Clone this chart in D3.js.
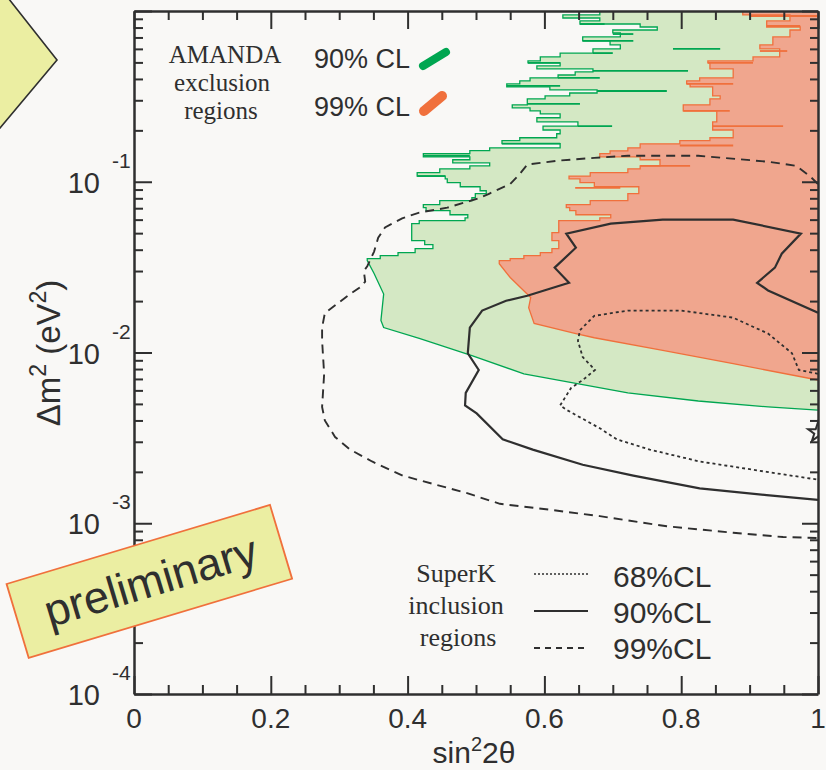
<!DOCTYPE html>
<html>
<head>
<meta charset="utf-8">
<script src="https://cdn.jsdelivr.net/npm/d3@7"></script>
<style>
  html, body { margin: 0; padding: 0; background: #f9f8f6; }
  svg { display: block; }
</style>
</head>
<body>
<svg id="chart" width="826" height="770"></svg>
<script>
// ---- axis ticks ----
const xMajorTicks = [0, 0.2, 0.4, 0.6, 0.8, 1];
const xTickLabels = ["0", "0.2", "0.4", "0.6", "0.8", "1"];
const yDecades = [1e-4, 1e-3, 1e-2, 1e-1];
const yExponents = ["-4", "-3", "-2", "-1"];

// ---- AMANDA exclusion regions, [sin²2θ, Δm² (eV²)] ----
// scanned rows of the ragged upper edge (left limit per Δm² row)
const amanda90Rows = [
  [0.613, 1.0], [0.681, 0.948], [0.627, 0.910], [0.681, 0.875], [0.652, 0.839], [0.740, 0.806],
  [0.765, 0.774], [0.700, 0.744], [0.711, 0.705], [0.656, 0.668], [0.696, 0.633], [0.711, 0.600],
  [0.671, 0.567], [0.623, 0.538], [0.594, 0.510], [0.576, 0.497], [0.623, 0.477], [0.589, 0.458],
  [0.671, 0.440], [0.645, 0.422], [0.620, 0.406], [0.579, 0.390], [0.564, 0.374], [0.545, 0.359],
  [0.608, 0.345], [0.677, 0.331], [0.637, 0.318], [0.601, 0.306], [0.575, 0.294], [0.575, 0.282],
  [0.553, 0.271], [0.579, 0.260], [0.594, 0.250], [0.623, 0.237], [0.589, 0.224], [0.649, 0.212],
  [0.598, 0.201], [0.623, 0.191], [0.618, 0.181], [0.564, 0.174], [0.538, 0.167], [0.623, 0.158],
  [0.520, 0.152], [0.491, 0.146], [0.423, 0.140], [0.491, 0.1345], [0.466, 0.129], [0.520, 0.124],
  [0.491, 0.119], [0.447, 0.113], [0.414, 0.108], [0.455, 0.104], [0.458, 0.0987], [0.477, 0.0935],
  [0.506, 0.0886], [0.515, 0.0851], [0.499, 0.0806], [0.494, 0.0775], [0.447, 0.0734], [0.423, 0.0705],
  [0.427, 0.0677], [0.462, 0.0641], [0.488, 0.0615], [0.484, 0.0592], [0.417, 0.0568], [0.406, 0.0538],
  [0.406, 0.0504], [0.406, 0.0477], [0.406, 0.0452], [0.425, 0.0428], [0.437, 0.0406], [0.411, 0.0385],
  [0.386, 0.0369], [0.360, 0.0355], [0.341, 0.0345]
];
// smooth lower edge
const amanda90Lower = [
  [0.341, 0.0345], [0.351, 0.029], [0.365, 0.022], [0.361, 0.0154], [0.365, 0.0140], [0.417, 0.0121],
  [0.494, 0.0096], [0.570, 0.0075], [0.646, 0.0066], [0.722, 0.0058], [0.825, 0.0052], [0.927, 0.0048],
  [1.0, 0.0046]
];
const amanda99Rows = [
  [0.893, 1.0], [0.890, 0.948], [0.959, 0.910], [0.959, 0.875], [0.925, 0.839], [0.925, 0.806],
  [0.974, 0.774], [0.959, 0.744], [0.959, 0.705], [0.934, 0.668], [0.934, 0.633], [0.915, 0.600],
  [0.944, 0.567], [0.944, 0.538], [0.905, 0.510], [0.839, 0.497], [0.842, 0.477], [0.842, 0.458],
  [0.876, 0.440], [0.876, 0.422], [0.876, 0.406], [0.827, 0.390], [0.808, 0.374], [0.813, 0.359],
  [0.846, 0.345], [0.846, 0.331], [0.846, 0.318], [0.857, 0.306], [0.842, 0.294], [0.842, 0.282],
  [0.803, 0.271], [0.803, 0.260], [0.852, 0.250], [0.852, 0.237], [0.852, 0.224], [0.846, 0.212],
  [0.846, 0.201], [0.876, 0.191], [0.876, 0.181], [0.842, 0.174], [0.798, 0.1667], [0.740, 0.158],
  [0.722, 0.1517], [0.696, 0.146], [0.681, 0.140], [0.740, 0.1345], [0.769, 0.129], [0.769, 0.124],
  [0.740, 0.119], [0.722, 0.113], [0.667, 0.108], [0.636, 0.104], [0.652, 0.0987], [0.673, 0.0935],
  [0.738, 0.0886], [0.738, 0.0851], [0.722, 0.0806], [0.722, 0.0775], [0.667, 0.0734], [0.632, 0.0705],
  [0.637, 0.0677], [0.646, 0.0641], [0.697, 0.0615], [0.681, 0.0592], [0.621, 0.0568], [0.621, 0.0538],
  [0.621, 0.0504], [0.611, 0.0477], [0.611, 0.0452], [0.621, 0.0428], [0.621, 0.0406], [0.611, 0.0385],
  [0.594, 0.0369], [0.570, 0.0355], [0.550, 0.0345], [0.534, 0.0331]
];
const amanda99Lower = [
  [0.534, 0.0331], [0.550, 0.0275], [0.580, 0.0210], [0.577, 0.0183], [0.585, 0.0148], [0.646, 0.0129],
  [0.673, 0.0122], [0.773, 0.0103], [0.876, 0.0086], [1.0, 0.0069]
];
// contour streaks inside the regions: [Δm², sin²2θ from, sin²2θ to]
const amanda90Streaks = [
  [0.839, 0.652, 0.688], [0.733, 0.700, 0.730], [0.668, 0.656, 0.730], [0.600, 0.788, 0.857],
  [0.567, 0.671, 0.700], [0.497, 0.576, 0.623], [0.446, 0.671, 0.810], [0.406, 0.620, 0.681],
  [0.364, 0.545, 0.623], [0.340, 0.677, 0.779], [0.286, 0.575, 0.652], [0.212, 0.649, 0.699],
  [0.167, 0.538, 0.623], [0.142, 0.423, 0.491], [0.108, 0.414, 0.455]
];
const amanda99Streaks = [
  [0.935, 0.901, 0.999], [0.817, 0.925, 0.974], [0.583, 0.915, 0.955], [0.497, 0.839, 0.905],
  [0.374, 0.808, 0.876], [0.260, 0.803, 0.871], [0.212, 0.846, 0.949], [0.163, 0.798, 0.876],
  [0.124, 0.740, 0.813], [0.092, 0.645, 0.711]
];

// ---- SuperK inclusion contours, [sin²2θ, Δm² (eV²)] ----
const superK68 = [
  [1.0, 0.0075], [0.972, 0.0079], [0.962, 0.0099], [0.927, 0.0129], [0.876, 0.0160],
  [0.800, 0.0176], [0.722, 0.0176], [0.673, 0.0164], [0.652, 0.0135], [0.649, 0.0117],
  [0.656, 0.0094], [0.674, 0.0079], [0.656, 0.0069], [0.639, 0.0062], [0.623, 0.0049],
  [0.633, 0.0046], [0.681, 0.0036], [0.706, 0.0031], [0.754, 0.0027], [0.827, 0.0023],
  [0.925, 0.0020], [1.0, 0.0018]
];
const superK90 = [
  [1.0, 0.0171], [0.927, 0.0231], [0.911, 0.0256], [0.937, 0.0314], [0.947, 0.0379],
  [0.975, 0.0497], [0.876, 0.0600], [0.773, 0.0600], [0.697, 0.0568], [0.632, 0.0497],
  [0.646, 0.0411], [0.615, 0.0314], [0.636, 0.0256], [0.575, 0.0215], [0.544, 0.0201],
  [0.509, 0.0176], [0.491, 0.0140], [0.488, 0.0099], [0.504, 0.0079], [0.485, 0.0058],
  [0.484, 0.0049], [0.501, 0.0044], [0.539, 0.0031], [0.583, 0.0027], [0.656, 0.0022],
  [0.730, 0.0019], [0.827, 0.0016], [0.925, 0.00146], [1.0, 0.00137]
];
const superK99 = [
  [1.0, 0.097], [0.988, 0.108], [0.968, 0.124], [0.927, 0.131], [0.825, 0.142],
  [0.722, 0.142], [0.673, 0.138], [0.621, 0.133], [0.575, 0.126], [0.564, 0.111],
  [0.550, 0.097], [0.519, 0.085], [0.504, 0.080], [0.458, 0.0705], [0.417, 0.066],
  [0.392, 0.061], [0.367, 0.054], [0.357, 0.047], [0.351, 0.039], [0.341, 0.032],
  [0.336, 0.030], [0.338, 0.026], [0.330, 0.024], [0.316, 0.022], [0.295, 0.019],
  [0.279, 0.017], [0.275, 0.014], [0.275, 0.0117], [0.278, 0.0075], [0.275, 0.0048],
  [0.279, 0.0040], [0.294, 0.0032], [0.316, 0.0027], [0.348, 0.0023], [0.393, 0.0019],
  [0.437, 0.0017], [0.487, 0.0015], [0.535, 0.0013], [0.608, 0.0012], [0.681, 0.0011],
  [0.779, 0.00096], [0.876, 0.00088], [0.949, 0.00083], [1.0, 0.00082]
];
const superKBest = [1.0, 0.0034];

// ---- drawing ----
const W = 826, H = 770;
const plot = { left: 134, right: 818, top: 11, bottom: 694 };
const ink = "#2f2f2f";
const green = "#00a651", greenFill = "#d4e8c4";
const orange = "#f0703c", orangeFill = "#f0a68e";
const yellow = "#ebeea2";
const sans = "'Liberation Sans', Arial, sans-serif";
const serif = "'Liberation Serif', 'Times New Roman', serif";

const svg = d3.select("#chart");
svg.append("rect").attr("width", W).attr("height", H).attr("fill", "#f9f8f6");

// decorative pointer in the corner
svg.append("polygon")
  .attr("points", "-10,-25 57,60 -10,140 -80,60")
  .attr("fill", yellow).attr("stroke", ink).attr("stroke-width", 1.6);

const x = d3.scaleLinear().domain([0, 1]).range([plot.left, plot.right]);
const y = d3.scaleLog().domain([1e-4, 1]).range([plot.bottom, plot.top]);

svg.append("defs").append("clipPath").attr("id", "plotClip")
  .append("rect")
  .attr("x", plot.left).attr("y", plot.top)
  .attr("width", plot.right - plot.left).attr("height", plot.bottom - plot.top);

const area = svg.append("g").attr("clip-path", "url(#plotClip)");
const line = d3.line().x(d => x(d[0])).y(d => y(d[1]));
const stepLine = d3.line().x(d => x(d[0])).y(d => y(d[1])).curve(d3.curveStepAfter);

// AMANDA exclusion regions: ragged rows + smooth lower edge, filled to the upper-right corner
function region(rows, lower, fill, edge, streaks) {
  const edgePath = stepLine(rows) + line(lower).replace(/^M/, "L");
  area.append("path")
    .attr("d", edgePath + `L${x(1)},${y(1)}Z`)
    .attr("fill", fill);
  area.append("path")
    .attr("d", edgePath)
    .attr("fill", "none").attr("stroke", edge).attr("stroke-width", 1.3);
  area.selectAll(null).data(streaks).join("line")
    .attr("x1", d => x(d[1])).attr("x2", d => x(d[2]))
    .attr("y1", d => y(d[0])).attr("y2", d => y(d[0]))
    .attr("stroke", edge).attr("stroke-width", 1.8);
}
region(amanda90Rows, amanda90Lower, greenFill, green, amanda90Streaks);
region(amanda99Rows, amanda99Lower, orangeFill, orange, amanda99Streaks);

// SuperK contours
const contourStyles = [
  { data: superK68, dash: "3,3", width: 1.8 },
  { data: superK90, dash: null, width: 2.2 },
  { data: superK99, dash: "9,6", width: 1.9 }
];
contourStyles.forEach(c => {
  area.append("path")
    .attr("d", line(c.data))
    .attr("fill", "none").attr("stroke", ink)
    .attr("stroke-width", c.width)
    .attr("stroke-dasharray", c.dash);
});

// best-fit star
area.append("path")
  .attr("d", d3.symbol(d3.symbolStar, 120)())
  .attr("transform", `translate(${x(superKBest[0])},${y(superKBest[1])})`)
  .attr("fill", "none").attr("stroke", ink).attr("stroke-width", 2);

// ---- frame and ticks ----
const xMinor = d3.range(0.05, 1, 0.05).filter(v => Math.abs(v * 5 - Math.round(v * 5)) > 1e-6);
const yMinor = y.ticks().filter(v => {
  const m = v / Math.pow(10, Math.floor(Math.log10(v) + 1e-9));
  return Math.abs(m - 1) > 1e-6;
});
const yMajor = yDecades.concat([1]);

function styleAxis(g, keepDomain) {
  g.selectAll("text").remove();
  if (keepDomain) g.select(".domain").attr("stroke", ink).attr("stroke-width", 2.5);
  else g.select(".domain").remove();
  g.selectAll(".tick line").attr("stroke", ink).attr("stroke-width", 2);
}
function addAxis(axis, tf, keepDomain) {
  svg.append("g").attr("transform", tf).call(axis).call(g => styleAxis(g, keepDomain));
}
addAxis(d3.axisBottom(x).tickValues(xMajorTicks).tickSize(-18).tickSizeOuter(0), `translate(0,${plot.bottom})`, true);
addAxis(d3.axisBottom(x).tickValues(xMinor).tickSize(-9).tickSizeOuter(0), `translate(0,${plot.bottom})`, false);
addAxis(d3.axisTop(x).tickValues(xMajorTicks).tickSize(-18).tickSizeOuter(0), `translate(0,${plot.top})`, true);
addAxis(d3.axisTop(x).tickValues(xMinor).tickSize(-9).tickSizeOuter(0), `translate(0,${plot.top})`, false);
addAxis(d3.axisLeft(y).tickValues(yMajor).tickSize(-18).tickSizeOuter(0), `translate(${plot.left},0)`, true);
addAxis(d3.axisLeft(y).tickValues(yMinor).tickSize(-9).tickSizeOuter(0), `translate(${plot.left},0)`, false);
addAxis(d3.axisRight(y).tickValues(yMajor).tickSize(-16).tickSizeOuter(0), `translate(${plot.right},0)`, true);
addAxis(d3.axisRight(y).tickValues(yMinor).tickSize(-8).tickSizeOuter(0), `translate(${plot.right},0)`, false);

// tick labels
svg.append("g").selectAll("text").data(xMajorTicks).join("text")
  .attr("x", d => x(d)).attr("y", 728)
  .attr("text-anchor", "middle")
  .attr("font-family", sans).attr("font-size", 28).attr("fill", ink)
  .text((d, i) => xTickLabels[i]);

const yl = svg.append("g").selectAll("g").data(yDecades).join("g");
yl.append("text")
  .attr("x", 100).attr("y", d => y(d) + 11)
  .attr("text-anchor", "end")
  .attr("font-family", sans).attr("font-size", 29).attr("fill", ink)
  .text("10");
yl.append("text")
  .attr("x", 112).attr("y", d => y(d) - 14)
  .attr("font-family", sans).attr("font-size", 21).attr("fill", ink)
  .text((d, i) => yExponents[i]);

// axis titles
const xt = svg.append("text")
  .attr("x", 474).attr("y", 763).attr("text-anchor", "middle")
  .attr("font-family", sans).attr("font-size", 30).attr("fill", ink);
xt.append("tspan").text("sin");
xt.append("tspan").attr("font-size", 20).attr("dy", -12).text("2");
xt.append("tspan").attr("dy", 12).text("2θ");

const yt = svg.append("text")
  .attr("transform", "translate(60,353) rotate(-90)")
  .attr("text-anchor", "middle")
  .attr("font-family", sans).attr("font-size", 33).attr("fill", ink);
yt.append("tspan").text("Δm");
yt.append("tspan").attr("font-size", 23).attr("dy", -14).text("2");
yt.append("tspan").attr("dy", 14).text(" (eV");
yt.append("tspan").attr("font-size", 23).attr("dy", -14).text("2");
yt.append("tspan").attr("dy", 14).text(")");

// ---- AMANDA legend ----
const amLeg = svg.append("g").attr("font-family", serif).attr("font-size", 25)
  .attr("fill", ink).attr("text-anchor", "middle");
amLeg.append("text").attr("x", 225).attr("y", 63).text("AMANDA");
amLeg.append("text").attr("x", 222).attr("y", 91).text("exclusion");
amLeg.append("text").attr("x", 221).attr("y", 119).text("regions");

const amCL = [
  { label: "90% CL", y: 68, color: green, sw: [[423, 66], [446, 52]], w: 8 },
  { label: "99% CL", y: 116, color: orange, sw: [[424, 111], [442, 96]], w: 10 }
];
amCL.forEach(c => {
  svg.append("text").attr("x", 314).attr("y", c.y)
    .attr("font-family", sans).attr("font-size", 27).attr("fill", ink).text(c.label);
  svg.append("line")
    .attr("x1", c.sw[0][0]).attr("y1", c.sw[0][1]).attr("x2", c.sw[1][0]).attr("y2", c.sw[1][1])
    .attr("stroke", c.color).attr("stroke-width", c.w).attr("stroke-linecap", "round");
});

// ---- SuperK legend ----
const skLeg = svg.append("g").attr("font-family", serif).attr("font-size", 26)
  .attr("fill", ink).attr("text-anchor", "middle");
skLeg.append("text").attr("x", 456).attr("y", 582).text("SuperK");
skLeg.append("text").attr("x", 456).attr("y", 614).text("inclusion");
skLeg.append("text").attr("x", 458).attr("y", 646).text("regions");

const skRows = [
  { label: "68%CL", ly: 574, ty: 587, dash: "2,2", width: 1.5 },
  { label: "90%CL", ly: 611, ty: 623, dash: null, width: 1.8 },
  { label: "99%CL", ly: 648, ty: 659, dash: "6,5", width: 1.8 }
];
skRows.forEach(r => {
  svg.append("line").attr("x1", 534).attr("x2", 588).attr("y1", r.ly).attr("y2", r.ly)
    .attr("stroke", ink).attr("stroke-width", r.width).attr("stroke-dasharray", r.dash);
  svg.append("text").attr("x", 613).attr("y", r.ty)
    .attr("font-family", sans).attr("font-size", 30).attr("fill", ink).text(r.label);
});

// ---- "preliminary" stamp ----
const stamp = svg.append("g").attr("transform", "translate(149,582) rotate(-16.7)");
stamp.append("rect")
  .attr("x", -137).attr("y", -39).attr("width", 275).attr("height", 77)
  .attr("fill", yellow).attr("stroke", orange).attr("stroke-width", 1.8);
stamp.append("text")
  .attr("x", 2).attr("y", 15).attr("text-anchor", "middle")
  .attr("font-family", sans).attr("font-size", 45).attr("fill", ink)
  .text("preliminary");
</script>
</body>
</html>
